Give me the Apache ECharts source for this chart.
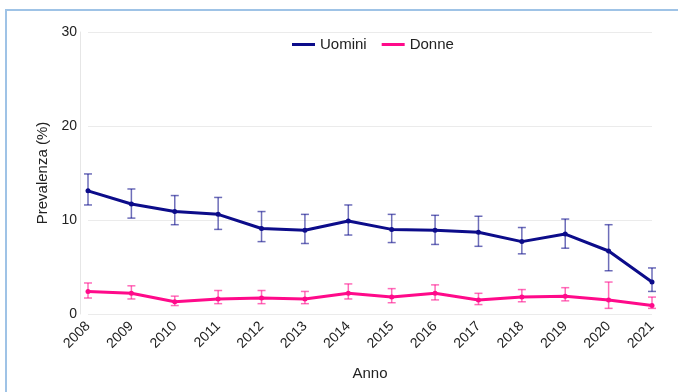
<!DOCTYPE html>
<html><head><meta charset="utf-8">
<script src="https://cdn.jsdelivr.net/npm/echarts@6/dist/echarts.min.js"></script>
<style>html,body{margin:0;padding:0;background:#fff}#c{width:678px;height:392px}</style>
</head><body><div id="c"></div>
<script>
const years = ['2008','2009','2010','2011','2012','2013','2014','2015','2016','2017','2018','2019','2020','2021'];
const uomini = [13.1,11.7,10.9,10.6,9.1,8.9,9.9,9.0,8.9,8.7,7.7,8.5,6.7,3.4];
const uominiLow = [11.6,10.2,9.5,9.0,7.7,7.5,8.4,7.6,7.4,7.2,6.4,7.0,4.6,2.4];
const uominiHigh = [14.9,13.3,12.6,12.4,10.9,10.6,11.6,10.6,10.5,10.4,9.2,10.1,9.5,4.9];
const donne = [2.4,2.2,1.3,1.6,1.7,1.6,2.2,1.8,2.2,1.5,1.8,1.9,1.5,0.9];
const donneLow = [1.7,1.6,0.9,1.1,1.1,1.1,1.6,1.2,1.5,1.0,1.3,1.4,0.6,0.6];
const donneHigh = [3.3,3.0,1.9,2.5,2.5,2.4,3.2,2.7,3.1,2.2,2.6,2.8,3.4,1.8];
const yTicks = [0,10,20,30];

const C_U = '#0c0c8a', C_D = '#ff0a8a';
const C_UE = 'rgba(12,12,138,0.6)', C_DE = 'rgba(255,10,138,0.6)';

function errData(lo, hi){ return years.map((y,i)=>[i, lo[i], hi[i]]); }
function errRender(color){
  return function(params, api){
    const x = api.value(0);
    const lo = api.coord([x, api.value(1)]);
    const hi = api.coord([x, api.value(2)]);
    const w = 4;
    const st = {stroke: color, lineWidth: 1.5};
    return {type:'group', children:[
      {type:'line', shape:{x1:lo[0],y1:lo[1],x2:hi[0],y2:hi[1]}, style:st},
      {type:'line', shape:{x1:lo[0]-w,y1:lo[1],x2:lo[0]+w,y2:lo[1]}, style:st},
      {type:'line', shape:{x1:hi[0]-w,y1:hi[1],x2:hi[0]+w,y2:hi[1]}, style:st}
    ]};
  };
}

const chart = echarts.init(document.getElementById('c'));
const font = 'Liberation Sans, Arial, sans-serif';
chart.setOption({
  animation:false,
  textStyle:{fontFamily:font},
  graphic:[{type:'rect', shape:{x:6,y:10,width:700,height:400}, style:{fill:'none', stroke:'#9fc3e6', lineWidth:2}, silent:true}],
  grid:{left:88, right:26, top:32, bottom:78, containLabel:false},
  legend:{
    top:32, left:287,
    data:[{name:'Uomini', icon:'rect'},{name:'Donne', icon:'rect'}],
    itemWidth:23, itemHeight:3, itemGap:15,
    textStyle:{fontSize:15, color:'#222', fontFamily:font}
  },
  xAxis:{
    type:'category', data:years, boundaryGap:false,
    name:'Anno', nameLocation:'middle', nameGap:52,
    nameTextStyle:{fontSize:15, color:'#222', fontFamily:font},
    axisLine:{show:false}, axisTick:{show:false},
    axisLabel:{rotate:45, fontSize:14, color:'#222', margin:10, fontFamily:font, interval:0}
  },
  yAxis:{
    type:'value', min:0, max:30, interval:10, offset:8,
    name:'Prevalenza (%)', nameLocation:'middle', nameGap:30, nameRotate:90,
    nameTextStyle:{fontSize:15, color:'#222', fontFamily:font},
    axisLine:{show:true, lineStyle:{color:'#e6e6e6', width:1}},
    axisTick:{show:false},
    axisLabel:{fontSize:14, color:'#222', margin:3, fontFamily:font},
    splitLine:{lineStyle:{color:'#ebebeb', width:1}}
  },
  series:[
    {type:'custom', name:'errU', renderItem:errRender(C_UE), data:errData(uominiLow,uominiHigh), z:2, encode:{x:0,y:[1,2]}},
    {type:'custom', name:'errD', renderItem:errRender(C_DE), data:errData(donneLow,donneHigh), z:2, encode:{x:0,y:[1,2]}},
    {type:'line', name:'Uomini', data:uomini, color:C_U, lineStyle:{width:3, color:C_U}, symbol:'circle', symbolSize:5, itemStyle:{color:C_U}, z:3},
    {type:'line', name:'Donne', data:donne, color:C_D, lineStyle:{width:3, color:C_D}, symbol:'circle', symbolSize:5, itemStyle:{color:C_D}, z:3}
  ]
});
</script></body></html>
